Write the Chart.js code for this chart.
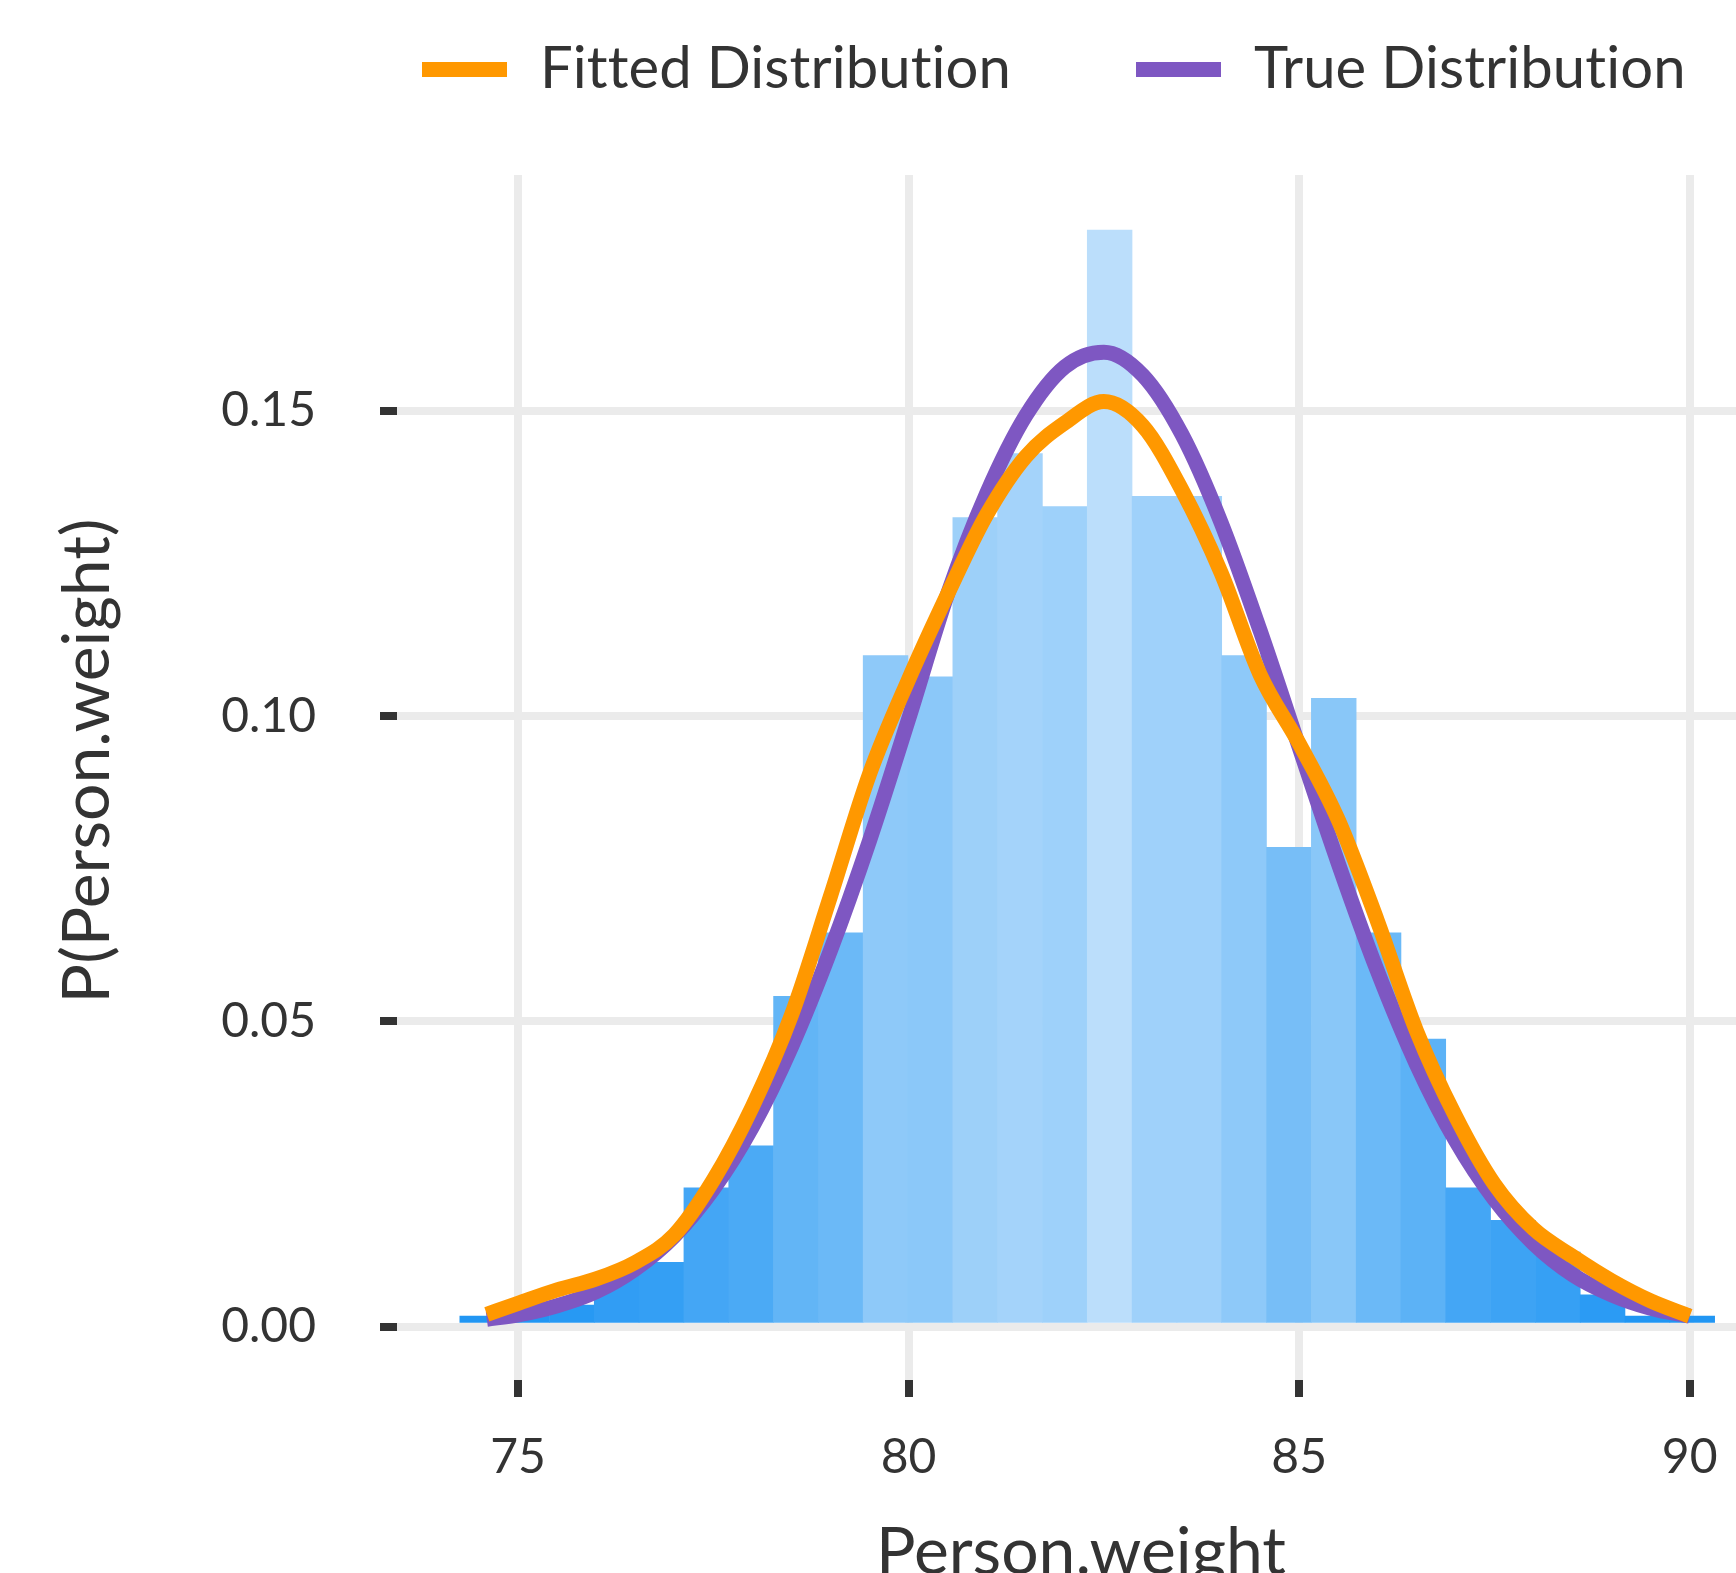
<!DOCTYPE html>
<html>
<head>
<meta charset="utf-8">
<title>Person.weight distribution</title>
<style>
  html, body { margin: 0; padding: 0; background: #ffffff; }
</style>
<script src="https://cdn.jsdelivr.net/npm/chart.js@4.4.1/dist/chart.umd.min.js"></script>
</head>
<body>
<canvas id="myChart" width="1736" height="1573"></canvas>
<script>
// histogram bins (centres) and their densities
const binCenters = [74.541, 75.115, 75.689, 76.262, 76.836, 77.410, 77.984, 78.558, 79.131, 79.705,
  80.279, 80.853, 81.426, 82.000, 82.574, 83.148, 83.722, 84.295, 84.869, 85.443,
  86.017, 86.590, 87.164, 87.738, 88.312, 88.885, 89.459, 90.033];
const binDensity = [0.0017, 0.0017, 0.0035, 0.0087, 0.0105, 0.0227, 0.0296, 0.0541, 0.0645, 0.1099,
  0.1064, 0.1325, 0.1430, 0.1343, 0.1796, 0.1360, 0.1360, 0.1099, 0.0785, 0.1029,
  0.0645, 0.0471, 0.0227, 0.0174, 0.0122, 0.0052, 0.0017, 0.0017];

// density curves
const curveX = [74.6, 75.0, 75.5, 76.0, 76.5, 77.0, 77.5, 78.0, 78.5, 79.0, 79.5, 80.0, 80.5, 81.0, 81.5,
  82.0, 82.5, 83.0, 83.5, 84.0, 84.5, 85.0, 85.5, 86.0, 86.5, 87.0, 87.5, 88.0, 88.5, 89.0, 89.5, 90.0];
const fittedY = [0.0020, 0.0038, 0.0060, 0.0078, 0.0105, 0.0150, 0.0240, 0.0360, 0.0510, 0.0705, 0.0905,
  0.1060, 0.1200, 0.1330, 0.1425, 0.1480, 0.1515, 0.1475, 0.1370, 0.1235, 0.1068, 0.0955, 0.0830,
  0.0665, 0.0485, 0.0345, 0.0233, 0.0160, 0.0115, 0.0075, 0.0042, 0.0017];
const trueY = [0.0012, 0.0019, 0.0034, 0.0057, 0.0094, 0.0148, 0.0225, 0.0327, 0.0458, 0.0616, 0.0796,
  0.0995, 0.1200, 0.1365, 0.1492, 0.1572, 0.1596, 0.1558, 0.1461, 0.1317, 0.1140, 0.0949, 0.0759,
  0.0583, 0.0430, 0.0305, 0.0208, 0.0136, 0.0085, 0.0052, 0.0030, 0.0017];

const seriesNames = ["Fitted Distribution", "True Distribution"];
const xTitle = "Person.weight";
const yTitle = "P(Person.weight)";
const xTicks = [75, 80, 85, 90];
const yTicks = [0, 0.05, 0.10, 0.15];

const orange = "#FF9800";
const purple = "#7E57C2";
const textColor = "#333333";
const gridColor = "#EBEBEB";
const fontFamily = "Lato, 'Noto Sans', sans-serif";

// bar fill goes from saturated blue (short bars) to pale blue (tall bars)
function mixHex(a, b, t) {
  const pa = [1, 3, 5].map(i => parseInt(a.substr(i, 2), 16));
  const pb = [1, 3, 5].map(i => parseInt(b.substr(i, 2), 16));
  const c = pa.map((v, i) => Math.round(v + (pb[i] - v) * t));
  return `rgb(${c[0]}, ${c[1]}, ${c[2]})`;
}
const hMin = Math.min(...binDensity);
const hMax = Math.max(...binDensity);
const barColors = binDensity.map(h => mixHex("#2196F3", "#BBDEFB", Math.pow((h - hMin) / (hMax - hMin), 0.7)));

// legend above the panel
const topLegend = {
  id: "topLegend",
  afterDraw(chart) {
    const c = chart.ctx;
    const items = [
      { x: 422, color: orange, label: seriesNames[0] },
      { x: 1136, color: purple, label: seriesNames[1] }
    ];
    c.save();
    c.font = `58px ${fontFamily}`;
    c.letterSpacing = "0.1px"; // no "ti" ligature
    c.textBaseline = "alphabetic";
    c.textAlign = "left";
    items.forEach(it => {
      c.fillStyle = it.color;
      c.fillRect(it.x, 62, 85, 15);
      c.fillStyle = textColor;
      c.fillText(it.label, it.x + 118, 88);
    });
    c.restore();
  }
};

// axis titles, placed like the original (centred on the un-cropped panel)
const axisTitles = {
  id: "axisTitles",
  afterDraw(chart) {
    const c = chart.ctx;
    c.save();
    c.font = `66px ${fontFamily}`;
    c.fillStyle = textColor;
    c.textAlign = "center";
    c.textBaseline = "alphabetic";
    c.fillText(xTitle, 1081, 1574);
    c.translate(109, 761);
    c.rotate(-Math.PI / 2);
    c.fillText(yTitle, 0, 0);
    c.restore();
  }
};

Chart.defaults.font.family = fontFamily;
Chart.defaults.color = textColor;

const ctx = document.getElementById("myChart");

new Chart(ctx, {
  data: {
    datasets: [
      {
        type: "line",
        label: seriesNames[0],
        data: curveX.map((x, i) => ({ x: x, y: fittedY[i] })),
        borderColor: orange,
        borderWidth: 15,
        borderCapStyle: "butt",
        borderJoinStyle: "round",
        cubicInterpolationMode: "monotone",
        pointRadius: 0,
        fill: false,
        order: 1
      },
      {
        type: "line",
        label: seriesNames[1],
        data: curveX.map((x, i) => ({ x: x, y: trueY[i] })),
        borderColor: purple,
        borderWidth: 15,
        borderCapStyle: "butt",
        borderJoinStyle: "round",
        cubicInterpolationMode: "monotone",
        pointRadius: 0,
        fill: false,
        order: 2
      },
      {
        type: "bar",
        label: "Histogram",
        data: binCenters.map((x, i) => ({ x: x, y: binDensity[i] })),
        backgroundColor: barColors,
        borderWidth: 0,
        barPercentage: 1,
        categoryPercentage: 1,
        order: 3
      }
    ]
  },
  options: {
    responsive: false,
    animation: false,
    layout: { padding: { top: 175, left: 0, right: 0, bottom: 0 } },
    plugins: {
      legend: { display: false },
      tooltip: { enabled: false }
    },
    scales: {
      x: {
        type: "linear",
        min: 73.45,
        max: 90.593,
        offset: false,
        afterFit: scale => {
          scale.height = 193;
          scale.paddingLeft = 0;
          scale.paddingRight = 0;
        },
        afterBuildTicks: scale => { scale.ticks = xTicks.map(v => ({ value: v })); },
        grid: {
          offset: false,
          color: gridColor,
          lineWidth: 8,
          tickColor: textColor,
          tickLength: 17,
          tickWidth: 8
        },
        border: { display: false },
        ticks: {
          padding: 32,
          font: { size: 48 },
          color: textColor,
          maxRotation: 0,
          callback: v => String(v)
        }
      },
      y: {
        type: "linear",
        min: -0.00876,
        max: 0.18862,
        afterFit: scale => {
          scale.width = 397;
          scale.paddingTop = 0;
          scale.paddingBottom = 0;
        },
        afterBuildTicks: scale => { scale.ticks = yTicks.map(v => ({ value: v })); },
        grid: {
          color: gridColor,
          lineWidth: 8,
          tickColor: textColor,
          tickLength: 17,
          tickWidth: 8
        },
        border: { display: false },
        ticks: {
          padding: 64,
          font: { size: 48 },
          color: textColor,
          callback: v => Number(v).toFixed(2)
        }
      }
    }
  },
  plugins: [topLegend, axisTitles]
});
</script>
</body>
</html>
